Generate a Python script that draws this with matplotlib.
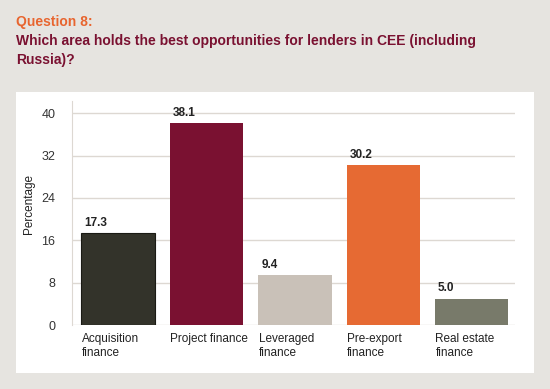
import numpy as np
import matplotlib.pyplot as plt

plt.rcParams['font.family'] = ['Liberation Sans', 'DejaVu Sans']

categories = ['Acquisition\nfinance', 'Project finance', 'Leveraged\nfinance',
              'Pre-export\nfinance', 'Real estate\nfinance']
values = [17.3, 38.1, 9.4, 30.2, 5.0]
colors = ['#33332a', '#7a1131', '#c9c1b8', '#e66a33', '#787a6a']
yticks = [0, 8, 16, 24, 32, 40]

fig = plt.figure(figsize=(5.5, 3.89), dpi=100)
fig.patch.set_facecolor('#e6e4e0')

# white panel behind the chart
bg = fig.add_axes([16/550, 1-373/389, 518/550, 281/389])
bg.set_facecolor('white')
bg.set_xticks([])
bg.set_yticks([])
for s in bg.spines.values():
    s.set_visible(False)

fig.text(16/550, 1-26/389, 'Question 8:', color='#e8652f', fontsize=10,
         fontweight='bold', va='baseline')
fig.text(16/550, 1-45/389, 'Which area holds the best opportunities for lenders in CEE (including',
         color='#7a1131', fontsize=10, fontweight='bold', va='baseline')
fig.text(16/550, 1-64/389, 'Russia)?', color='#7a1131', fontsize=10,
         fontweight='bold', va='baseline')

ax = fig.add_axes([72/550, 1-325/389, 443/550, 224/389])
ax.set_facecolor('none')
x = np.arange(len(values))
edges = ['#1a1a14', 'none', 'none', 'none', 'none']
ax.bar(x, values, width=0.83, color=colors, edgecolor=edges, linewidth=0.8, zorder=3)
for xi, v in zip(x, values):
    ax.text(xi - 0.38, v + 0.8, f'{v:.1f}', fontsize=8.5, fontweight='bold',
            color='#222222', ha='left', va='bottom')

ax.set_xlim(-0.52, 4.49)
ax.set_ylim(0, 42.3)
ax.set_yticks(yticks)
ax.set_axisbelow(True)
ax.yaxis.grid(True, color='#ddd8d2', linewidth=1)
ax.set_xticks(x - 0.41)
ax.set_xticklabels(categories, ha='left', fontsize=8.5, color='#222222')
ax.tick_params(axis='x', length=0, pad=6)
ax.tick_params(axis='y', length=0, pad=12, labelsize=9, labelcolor='#333333')
for s in ['top', 'right', 'bottom']:
    ax.spines[s].set_visible(False)
ax.spines['left'].set_color('#ddd8d2')
ax.set_ylabel('Percentage', fontsize=8.5, color='#222222')
ax.yaxis.set_label_coords(-0.083, 0.54)

fig.savefig('out.png', dpi=100, facecolor=fig.get_facecolor())
